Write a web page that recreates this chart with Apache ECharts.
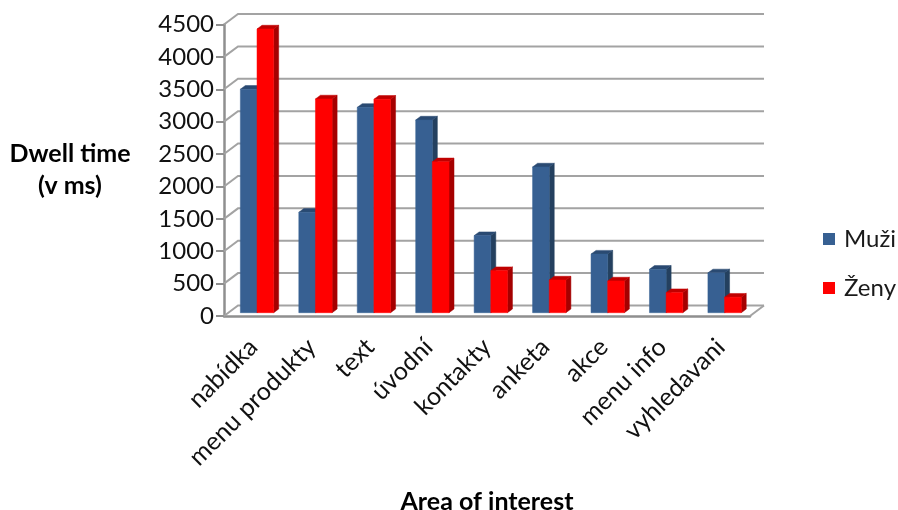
<!DOCTYPE html>
<html>
<head>
<meta charset="utf-8">
<style>html,body{margin:0;padding:0;background:#fff}#chart{width:898px;height:510px}</style>
<script src="https://cdn.jsdelivr.net/npm/echarts@6/dist/echarts.min.js"></script>
</head>
<body>
<div id="chart"></div>
<script>
// Dwell time per area of interest, split by gender
const categories = ['nabídka', 'menu produkty', 'text', 'úvodní', 'kontakty', 'anketa', 'akce', 'menu info', 'vyhledavani'];
const muzi = [3450, 1550, 3170, 2975, 1190, 2250, 905, 670, 615];
const zeny = [4380, 3300, 3295, 2330, 650, 505, 490, 310, 240];
const valueTicks = [0, 500, 1000, 1500, 2000, 2500, 3000, 3500, 4000, 4500];

const FONT = 'Lato';
const GRID_COLOR = '#a3a3a3';
const AXIS_COLOR = '#8f8f8f';

// Pseudo-3D projection: the back wall sits up and to the right of the front plane
const WALL_DX = 14, WALL_DY = -10.5;
// Bars stand a little behind the front plane and have a shallow depth
const BAR_DX = 3.8, BAR_DY = -3.3, SIDE_W = 5, TOP_H = 3.7;
const BAR_BAND = 0.285;

function barRenderer(slot, front, side, top) {
  return function (params, api) {
    const cat = api.value(0), val = api.value(1);
    const band = api.size([1, 0])[0];
    const c = api.coord([cat, val]);
    const b = api.coord([cat, 0]);
    const w = band * BAR_BAND;
    const x0 = c[0] + BAR_DX + (slot - 1) * w, x1 = x0 + w;
    const y0 = c[1] + BAR_DY, y1 = b[1] + BAR_DY;
    const poly = (points, fill) => ({
      type: 'polygon', shape: { points }, style: { fill, stroke: fill, lineWidth: 0.5 }
    });
    return {
      type: 'group',
      children: [
        poly([[x1, y0], [x1 + SIDE_W, y0 - TOP_H], [x1 + SIDE_W, y1 - TOP_H], [x1, y1]], side),
        poly([[x0, y0], [x0 + SIDE_W, y0 - TOP_H], [x1 + SIDE_W, y0 - TOP_H], [x1, y0]], top),
        poly([[x0, y0], [x1, y0], [x1, y1], [x0, y1]], front)
      ]
    };
  };
}

// Back-wall gridlines with their diagonal run along the side wall, plus the floor edge
function wallRenderer(params, api) {
  const v = api.value(0);
  const left = api.coord([0, v]);
  const right = api.coord([categories.length - 1, v]);
  const band = api.size([1, 0])[0];
  const xL = left[0] - band / 2, xR = right[0] + band / 2;
  const y = left[1];
  const children = [{
    type: 'polyline',
    shape: { points: [[xL, y], [xL + WALL_DX, y + WALL_DY], [xR + WALL_DX, y + WALL_DY]] },
    style: { stroke: GRID_COLOR, lineWidth: 2, fill: null }
  }];
  if (v === 0) {
    children.push({
      type: 'line',
      shape: { x1: xR, y1: y, x2: xR + WALL_DX, y2: y + WALL_DY },
      style: { stroke: GRID_COLOR, lineWidth: 2 }
    });
  }
  return { type: 'group', children };
}

const chart = echarts.init(document.getElementById('chart'), null, { renderer: 'canvas' });
chart.setOption({
  animation: false,
  backgroundColor: '#fff',
  textStyle: { fontFamily: FONT },
  grid: { left: 224, right: 148, top: 24.5, bottom: 194, outerBoundsMode: 'none' },
  legend: {
    orient: 'vertical',
    left: 818,
    top: 222,
    itemWidth: 12,
    itemHeight: 12,
    itemGap: 25,
    icon: 'rect',
    data: ['Muži', 'Ženy'],
    textStyle: { fontFamily: FONT, fontSize: 24, color: '#1a1a1a', padding: [0, 0, 0, 4] }
  },
  xAxis: {
    type: 'category',
    data: categories,
    boundaryGap: true,
    name: 'Area of interest',
    nameLocation: 'middle',
    nameGap: 173,
    nameTextStyle: { fontFamily: FONT, fontWeight: 'bold', fontSize: 25, color: '#000' },
    axisLine: { lineStyle: { color: AXIS_COLOR, width: 2.5 } },
    axisTick: { alignWithLabel: false, length: 7, lineStyle: { color: AXIS_COLOR, width: 2 } },
    axisLabel: { rotate: 45, interval: 0, margin: 27, fontFamily: FONT, fontSize: 25, color: '#111' },
    splitLine: { show: false }
  },
  yAxis: {
    type: 'value',
    min: 0,
    max: 4500,
    interval: 500,
    name: 'Dwell time\n(v ms)',
    nameLocation: 'middle',
    nameRotate: 0,
    nameGap: 154,
    nameTextStyle: { fontFamily: FONT, fontWeight: 'bold', fontSize: 25, lineHeight: 32, color: '#000', align: 'center', padding: [8, 0, 0, 0] },
    axisLine: { show: true, lineStyle: { color: AXIS_COLOR, width: 2.5 } },
    axisTick: { show: true, length: 8, lineStyle: { color: AXIS_COLOR, width: 2 } },
    axisLabel: { margin: 10, fontFamily: FONT, fontSize: 24, color: '#111', formatter: v => String(v) },
    splitLine: { show: false }
  },
  series: [
    {
      type: 'custom',
      name: 'walls',
      silent: true,
      z: 1,
      renderItem: wallRenderer,
      encode: { y: 0 },
      data: valueTicks.map(v => [v])
    },
    {
      type: 'custom',
      name: 'Muži',
      z: 2,
      itemStyle: { color: '#376092' },
      renderItem: barRenderer(0, '#376092', '#24405f', '#2a4a72'),
      encode: { x: 0, y: 1 },
      data: muzi.map((v, i) => [i, v])
    },
    {
      type: 'custom',
      name: 'Ženy',
      z: 3,
      itemStyle: { color: '#ff0000' },
      renderItem: barRenderer(1, '#ff0000', '#a50000', '#c00000'),
      encode: { x: 0, y: 1 },
      data: zeny.map((v, i) => [i, v])
    }
  ]
});
</script>
</body>
</html>
